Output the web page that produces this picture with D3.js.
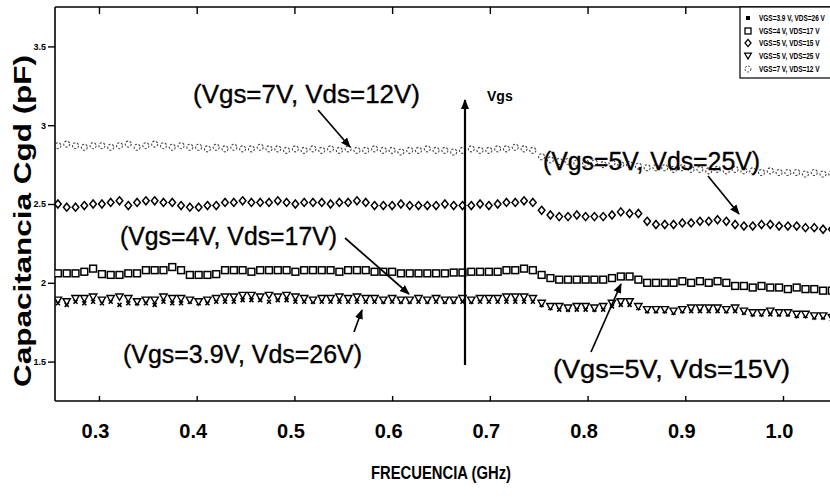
<!DOCTYPE html>
<html><head><meta charset="utf-8">
<script src="https://cdn.jsdelivr.net/npm/d3@7"></script>
<style>
html,body{margin:0;padding:0;background:#fff;overflow:hidden;}
svg{display:block;font-family:"Liberation Sans",Arial,Helvetica,sans-serif;}
</style></head>
<body>
<svg id="chart" width="830" height="497"></svg>
<script>
// ---------------- data ----------------
const freqGHz = [0.258,0.267,0.276,0.285,0.294,0.303,0.312,0.321,0.330,0.339,
  0.348,0.357,0.366,0.375,0.384,0.393,0.402,0.411,0.420,0.429,
  0.438,0.447,0.456,0.465,0.474,0.483,0.492,0.501,0.510,0.519,
  0.528,0.537,0.546,0.555,0.564,0.573,0.582,0.591,0.600,0.609,
  0.618,0.627,0.636,0.645,0.654,0.663,0.672,0.681,0.690,0.699,
  0.708,0.717,0.726,0.735,0.744,0.753,0.762,0.771,0.780,0.789,
  0.798,0.807,0.816,0.825,0.834,0.843,0.852,0.861,0.870,0.879,
  0.888,0.897,0.906,0.915,0.924,0.933,0.942,0.951,0.960,0.969,
  0.978,0.987,0.996,1.005,1.014,1.023,1.032,1.041,1.050];

const cgd_3v9_26 = [1.87,1.86,1.88,1.87,1.88,1.87,1.88,1.86,1.87,1.87,
  1.87,1.86,1.88,1.87,1.87,1.88,1.87,1.87,1.88,1.88,
  1.88,1.89,1.89,1.89,1.88,1.89,1.89,1.88,1.88,1.88,
  1.88,1.88,1.88,1.88,1.88,1.88,1.88,1.88,1.88,1.88,
  1.88,1.88,1.88,1.88,1.88,1.88,1.88,1.88,1.88,1.88,
  1.88,1.88,1.88,1.88,1.88,1.86,1.84,1.83,1.83,1.83,
  1.83,1.83,1.83,1.85,1.86,1.86,1.84,1.82,1.82,1.82,
  1.81,1.82,1.82,1.82,1.82,1.82,1.82,1.82,1.81,1.80,
  1.80,1.80,1.80,1.80,1.79,1.79,1.78,1.78,1.77];

const cgd_4_17 = [2.06,2.06,2.06,2.07,2.09,2.055,2.05,2.05,2.06,2.06,
  2.08,2.08,2.08,2.10,2.08,2.05,2.05,2.05,2.055,2.08,
  2.08,2.08,2.07,2.08,2.08,2.08,2.08,2.07,2.08,2.08,
  2.08,2.08,2.07,2.08,2.08,2.08,2.07,2.07,2.07,2.06,
  2.06,2.06,2.06,2.06,2.06,2.065,2.065,2.07,2.07,2.07,
  2.07,2.08,2.08,2.09,2.08,2.05,2.03,2.02,2.02,2.02,
  2.02,2.02,2.02,2.03,2.04,2.04,2.02,2.00,2.00,2.00,
  2.00,2.01,2.00,2.01,2.00,2.01,2.00,1.98,1.98,1.97,
  1.98,1.97,1.97,1.96,1.97,1.96,1.96,1.95,1.95];

const cgd_5_15 = [2.50,2.48,2.48,2.49,2.50,2.50,2.51,2.52,2.49,2.51,
  2.52,2.52,2.51,2.51,2.49,2.48,2.48,2.49,2.49,2.51,
  2.51,2.52,2.51,2.51,2.51,2.52,2.51,2.50,2.51,2.51,
  2.51,2.50,2.51,2.51,2.52,2.51,2.49,2.49,2.49,2.50,
  2.49,2.49,2.49,2.49,2.50,2.49,2.49,2.49,2.50,2.49,
  2.50,2.51,2.51,2.52,2.51,2.46,2.43,2.42,2.42,2.43,
  2.42,2.42,2.42,2.43,2.45,2.44,2.44,2.39,2.37,2.37,
  2.37,2.38,2.38,2.39,2.39,2.40,2.39,2.37,2.36,2.36,
  2.37,2.37,2.36,2.36,2.36,2.35,2.35,2.34,2.34];

const cgd_5_25 = [1.89,1.88,1.90,1.90,1.91,1.89,1.90,1.91,1.90,1.88,
  1.89,1.89,1.91,1.90,1.90,1.89,1.88,1.89,1.90,1.91,
  1.91,1.92,1.92,1.91,1.92,1.91,1.92,1.91,1.90,1.89,
  1.90,1.90,1.91,1.90,1.91,1.90,1.90,1.89,1.90,1.89,
  1.89,1.90,1.89,1.90,1.89,1.89,1.90,1.89,1.90,1.90,
  1.90,1.91,1.91,1.91,1.90,1.87,1.85,1.85,1.84,1.85,
  1.85,1.84,1.85,1.87,1.88,1.88,1.85,1.83,1.83,1.83,
  1.82,1.83,1.84,1.84,1.84,1.84,1.83,1.84,1.82,1.81,
  1.81,1.82,1.81,1.81,1.80,1.80,1.79,1.79,1.78];

const cgd_7_12 = [2.87,2.88,2.87,2.86,2.87,2.87,2.86,2.87,2.88,2.86,
  2.87,2.88,2.87,2.86,2.87,2.86,2.86,2.85,2.86,2.85,
  2.86,2.85,2.85,2.86,2.85,2.85,2.84,2.85,2.84,2.85,
  2.84,2.85,2.84,2.85,2.84,2.84,2.85,2.84,2.84,2.83,
  2.84,2.84,2.85,2.84,2.84,2.83,2.84,2.85,2.84,2.84,
  2.85,2.85,2.86,2.85,2.84,2.80,2.78,2.77,2.77,2.76,
  2.76,2.76,2.75,2.76,2.75,2.75,2.74,2.73,2.73,2.73,
  2.72,2.73,2.72,2.72,2.71,2.72,2.71,2.72,2.71,2.71,
  2.70,2.71,2.70,2.70,2.70,2.69,2.70,2.69,2.69];

const seriesNames = ["VGS=3.9 V, VDS=26 V","VGS=4 V, VDS=17 V","VGS=5 V, VDS=15 V","VGS=5 V, VDS=25 V","VGS=7 V, VDS=12 V"];
const xTicks = [0.3,0.4,0.5,0.6,0.7,0.8,0.9,1.0];
const xTickLabels = ["0.3","0.4","0.5","0.6","0.7","0.8","0.9","1.0"];
const yTicks = [1.5,2,2.5,3,3.5];
const yTickLabels = ["1.5","2","2.5","3","3.5"];

// ---------------- chart ----------------
const svg = d3.select("#chart");
const x = d3.scaleLinear().domain([0.255, 1.0]).range([55, 783]);
const y = d3.scaleLinear().domain([1.25, 3.75]).range([401, 7]);
const xRight = 830;

const defs = svg.append("defs");
defs.append("marker").attr("id","ah").attr("viewBox","0 0 10 10").attr("refX",9).attr("refY",5)
  .attr("markerWidth",10).attr("markerHeight",10).attr("markerUnits","userSpaceOnUse").attr("orient","auto")
  .append("path").attr("d","M0,1 L10,5 L0,9 Z").attr("fill","#000");

// frame
const frame = svg.append("g").attr("stroke","#000").attr("stroke-width",1.6).attr("fill","none");
frame.append("line").attr("x1",x(0.255)).attr("x2",x(0.255)).attr("y1",y(3.75)).attr("y2",y(1.25));
frame.append("line").attr("x1",x(0.255)).attr("x2",xRight).attr("y1",y(1.25)).attr("y2",y(1.25));
frame.append("line").attr("x1",x(0.255)).attr("x2",xRight).attr("y1",y(3.75)).attr("y2",y(3.75));

// x axis
const xAxis = d3.axisBottom(x).tickValues(xTicks).tickSize(-5).tickPadding(23)
  .tickFormat((d,i)=>xTickLabels[i]);
const gx = svg.append("g").attr("transform",`translate(0,${y(1.25)})`).call(xAxis);
gx.select(".domain").remove();
gx.selectAll(".tick line").attr("stroke","#000").attr("stroke-width",1.4);
gx.selectAll(".tick text").attr("font-size",20).attr("font-weight","bold").attr("fill","#000")
  .attr("font-family","Liberation Sans, Arial, sans-serif").attr("dx",-4);

// top ticks
const xTop = d3.axisTop(x).tickValues(xTicks).tickSize(-7).tickFormat("");
const gt = svg.append("g").attr("transform",`translate(0,${y(3.75)})`).call(xTop);
gt.select(".domain").remove();
gt.selectAll(".tick line").attr("stroke","#000").attr("stroke-width",1.4);

// y axis
const yAxis = d3.axisLeft(y).tickValues(yTicks).tickSize(7).tickPadding(2)
  .tickFormat((d,i)=>yTickLabels[i]);
const gy = svg.append("g").attr("transform",`translate(${x(0.255)},0)`).call(yAxis);
gy.select(".domain").remove();
gy.selectAll(".tick line").attr("stroke","#000").attr("stroke-width",1.4);
gy.selectAll(".tick text").attr("font-size",9).attr("font-weight","bold").attr("fill","#000")
  .attr("font-family","Liberation Sans, Arial, sans-serif");

// axis titles
svg.append("text").attr("x",441).attr("y",479).attr("text-anchor","middle")
  .attr("font-size",18).attr("font-weight","bold").attr("textLength",140).attr("lengthAdjust","spacingAndGlyphs")
  .text("FRECUENCIA (GHz)");
svg.append("text").attr("transform","translate(31,221) rotate(-90)").attr("text-anchor","middle")
  .attr("font-size",24).attr("font-weight","bold").attr("textLength",332).attr("lengthAdjust","spacingAndGlyphs")
  .text("Capacitancia Cgd (pF)");

// plot clip
defs.append("clipPath").attr("id","plotclip").append("rect")
  .attr("x",x(0.255)).attr("y",y(3.75)).attr("width",xRight-x(0.255)).attr("height",y(1.25)-y(3.75));
const plot = svg.append("g").attr("clip-path","url(#plotclip)");

const pts = arr => arr.map((v,i)=>({f:freqGHz[i], v}));

// VGS=7 series: faint dashed circles
plot.append("g").selectAll("circle").data(pts(cgd_7_12)).join("circle")
  .attr("cx",d=>x(d.f)).attr("cy",d=>y(d.v)).attr("r",3)
  .attr("fill","none").attr("stroke","#444").attr("stroke-width",1.1).attr("stroke-dasharray","2.2,1.6");

// diamonds
plot.append("g").selectAll("path").data(pts(cgd_5_15)).join("path")
  .attr("transform",d=>`translate(${x(d.f)},${y(d.v)})`)
  .attr("d","M0,-4 L3.3,0 L0,4 L-3.3,0 Z")
  .attr("fill","#fff").attr("stroke","#000").attr("stroke-width",1.5);

// squares
plot.append("g").selectAll("rect").data(pts(cgd_4_17)).join("rect")
  .attr("x",d=>x(d.f)-3.4).attr("y",d=>y(d.v)-3.4).attr("width",6.8).attr("height",6.8)
  .attr("fill","#fff").attr("stroke","#000").attr("stroke-width",1.5);

// x markers (3.9 V)
plot.append("g").selectAll("path").data(pts(cgd_3v9_26)).join("path")
  .attr("transform",d=>`translate(${x(d.f)},${y(d.v)})`)
  .attr("d","M-2,-2 L2,2 M-2,2 L2,-2")
  .attr("stroke","#000").attr("stroke-width",1.6);

// down triangles
plot.append("g").selectAll("path").data(pts(cgd_5_25)).join("path")
  .attr("transform",d=>`translate(${x(d.f)},${y(d.v)})`)
  .attr("d","M-3.7,-3 L3.7,-3 L0,3.3 Z")
  .attr("fill","#fff").attr("stroke","#000").attr("stroke-width",1.4);

// annotations
const ann = svg.append("g").attr("font-size",25).attr("fill","#000").attr("stroke","#000").attr("stroke-width",0.35);
function label(txt, x0, yb, len){
  ann.append("text").attr("x",x0).attr("y",yb).attr("textLength",len).attr("lengthAdjust","spacingAndGlyphs").text(txt);
}
label("(Vgs=7V, Vds=12V)", 193, 103, 227);
label("(Vgs=5V, Vds=25V)", 543, 170, 217);
label("(Vgs=4V, Vds=17V)", 120, 245, 217);
label("(Vgs=3.9V, Vds=26V)", 123, 363, 239);
label("(Vgs=5V, Vds=15V)", 553, 378, 237);

function arrow(x1,y1,x2,y2,w){
  svg.append("line").attr("x1",x1).attr("y1",y1).attr("x2",x2).attr("y2",y2)
    .attr("stroke","#000").attr("stroke-width",w||1.7).attr("marker-end","url(#ah)");
}
arrow(318,110,350,147);
arrow(708,176,739,214);
arrow(345,238,409,294);
arrow(354,332,362,310);
arrow(591,352,621,284);
arrow(465,365,465,100,2.2);
svg.append("text").attr("x",487).attr("y",101).attr("font-size",14).attr("font-weight","bold").text("Vgs");

// legend
const lg = svg.append("g");
lg.append("rect").attr("x",740).attr("y",7).attr("width",100).attr("height",71)
  .attr("fill","#fff").attr("stroke","#000").attr("stroke-width",1.2);
const rowY = [18,31,43,56,69];
const mx = 748;
seriesNames.forEach((n,i)=>{
  lg.append("text").attr("transform",`translate(759,${rowY[i]+3}) scale(0.72,1)`)
    .attr("font-size",9).attr("font-weight","bold").text(n);
});
lg.append("rect").attr("x",mx-2).attr("y",rowY[0]-2).attr("width",4).attr("height",4).attr("fill","#000");
lg.append("rect").attr("x",mx-3).attr("y",rowY[1]-3).attr("width",6).attr("height",6).attr("fill","#fff").attr("stroke","#000").attr("stroke-width",1.3);
lg.append("path").attr("transform",`translate(${mx},${rowY[2]})`).attr("d","M0,-3.6 L3,0 L0,3.6 L-3,0 Z").attr("fill","#fff").attr("stroke","#000").attr("stroke-width",1.3);
lg.append("path").attr("transform",`translate(${mx},${rowY[3]})`).attr("d","M-3.3,-2.8 L3.3,-2.8 L0,3 Z").attr("fill","#fff").attr("stroke","#000").attr("stroke-width",1.3);
lg.append("circle").attr("cx",mx).attr("cy",rowY[4]).attr("r",3).attr("fill","none").attr("stroke","#444").attr("stroke-dasharray","2,1.5");
</script>
</body></html>
